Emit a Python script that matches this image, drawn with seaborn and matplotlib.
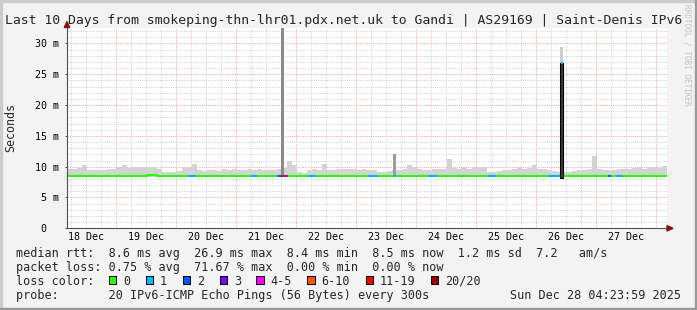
import numpy as np
import pandas as pd
import matplotlib
matplotlib.use("Agg")
import matplotlib.pyplot as plt
from matplotlib.patches import Rectangle, Polygon
import seaborn as sns

# ---------------- data ----------------
title = "Last 10 Days from smokeping-thn-lhr01.pdx.net.uk to Gandi | AS29169 | Saint-Denis IPv6"
period_start = "2025-12-18 04:23:59"
period_days = 10
bin_hours = 2

day_labels = ["18 Dec", "19 Dec", "20 Dec", "21 Dec", "22 Dec",
              "23 Dec", "24 Dec", "25 Dec", "26 Dec", "27 Dec"]
y_ticks_ms = [0, 5, 10, 15, 20, 25, 30]
y_tick_labels = ["0  ", "5 m", "10 m", "15 m", "20 m", "25 m", "30 m"]

# upper edge of the smoke (ms), one value per 2-hour bin
smoke_top_ms = [
    9.7, 9.6, 9.8, 10.3, 9.4, 9.4, 9.5, 9.5, 9.6, 9.7, 9.9, 10.3,
    9.8, 9.9, 10.0, 9.9, 10.0, 9.9, 9.7, 9.2, 9.1, 9.2, 9.3, 9.9,
    9.9, 10.4, 9.4, 9.3, 9.5, 9.4, 9.3, 9.6, 9.5, 9.7, 9.4, 9.4,
    9.6, 9.5, 9.7, 9.5, 9.4, 9.5, 9.6, 9.8, 11.0, 10.2, 9.1, 9.0,
    9.4, 9.6, 9.5, 10.4, 9.5, 9.4, 9.6, 9.6, 9.7, 9.6, 9.5, 9.6,
    9.5, 9.4, 9.2, 9.1, 9.3, 9.4, 9.5, 9.6, 10.3, 9.9, 9.6, 9.5,
    9.4, 9.6, 9.6, 9.7, 11.2, 9.8, 9.6, 9.9, 9.7, 10.0, 9.9, 10.0,
    9.2, 9.1, 9.3, 9.5, 9.4, 9.6, 9.9, 9.7, 9.8, 10.3, 9.7, 9.6,
    9.4, 9.3, 9.2, 9.1, 9.2, 9.3, 9.5, 9.4, 9.6, 11.7, 9.7, 9.4,
    9.5, 9.4, 9.6, 9.7, 9.6, 9.8, 9.9, 9.7, 10.0, 10.0, 9.8, 10.1,
]
smoke_floor_ms = 8.4

# median rtt (ms), one value per 2-hour bin
median_ms = [
    8.5, 8.5, 8.5, 8.5, 8.5, 8.5, 8.5, 8.5, 8.5, 8.5, 8.5, 8.5,
    8.5, 8.5, 8.5, 8.5, 8.62, 8.62, 8.5, 8.5, 8.5, 8.5, 8.5, 8.5,
    8.5, 8.5, 8.5, 8.5, 8.5, 8.5, 8.5, 8.5, 8.5, 8.5, 8.5, 8.5,
    8.5, 8.5, 8.5, 8.5, 8.5, 8.5, 8.5, 8.5, 8.5, 8.5, 8.5, 8.5,
    8.5, 8.5, 8.5, 8.5, 8.5, 8.5, 8.5, 8.5, 8.5, 8.5, 8.5, 8.5,
    8.5, 8.5, 8.5, 8.5, 8.5, 8.5, 8.5, 8.5, 8.5, 8.5, 8.5, 8.5,
    8.5, 8.5, 8.5, 8.5, 8.5, 8.5, 8.5, 8.5, 8.5, 8.5, 8.5, 8.5,
    8.5, 8.5, 8.5, 8.5, 8.5, 8.5, 8.5, 8.5, 8.5, 8.5, 8.5, 8.5,
    8.5, 8.5, 8.5, 8.5, 8.5, 8.5, 8.5, 8.5, 8.5, 8.5, 8.5, 8.5,
    8.5, 8.5, 8.5, 8.5, 8.5, 8.5, 8.5, 8.5, 8.5, 8.5, 8.5, 8.5,
]

# periods with packet loss (hours from start, pings lost of 20)
loss_seg_start_h = [48.4, 73.6, 83.4, 84.2, 85.6, 87.6, 96.4, 120.4, 130.4,
                    144.4, 157.8, 168.4, 192.4, 216.4, 219.6]
loss_seg_end_h = [51.6, 76.0, 84.2, 85.6, 87.6, 88.4, 99.6, 124.4, 131.6,
                  148.0, 158.4, 171.6, 197.2, 217.6, 222.4]
loss_seg_lost = [1, 1, 1, 2, 14, 2, 1, 1, 1, 1, 1, 1, 1, 2, 1]

# tall smoke spikes
spike_start_h = [85.6, 130.4, 197.2]
spike_end_h = [86.6, 131.6, 198.4]
spike_top_ms = [34.0, 12.0, 29.4]

# median jump on 26 Dec
jump_start_h = 197.2
jump_end_h = 198.4
jump_median_ms = 26.9
jump_lost = 1

loss_labels = ["0", "1", "2", "3", "4-5", "6-10", "11-19", "20/20"]
loss_thresholds = [0, 1, 2, 3, 5, 10, 19, 20]
loss_colors = ["#26ff00", "#00b8ff", "#0059ff", "#7e00ff",
               "#ff00ff", "#ff5500", "#ff0000", "#a10000"]

legend_median = "median rtt:  8.6 ms avg  26.9 ms max  8.4 ms min  8.5 ms now  1.2 ms sd  7.2   am/s"
legend_loss = "packet loss: 0.75 % avg  71.67 % max  0.00 % min  0.00 % now"
legend_color = "loss color:"
legend_probe = "probe:       20 IPv6-ICMP Echo Pings (56 Bytes) every 300s"
stamp = "Sun Dec 28 04:23:59 2025"

# ---------------- style ----------------
sns.set_theme(style="white")
plt.rcParams["font.family"] = ["DejaVu Sans Mono", "DejaVu Sans"]

W, H = 697, 310
def fx(x):
    return x / W
def fy(y):
    return 1 - y / H

BG = "#f3f3f3"
MINOR = "#d2d2d2"
MAJOR = "#f2a6a6"
AXIS = "#505050"
ARROW = "#8b1010"

fig = plt.figure(figsize=(W / 100, H / 100), dpi=100, facecolor=BG)
ax = fig.add_axes([fx(67), fy(228.3), 600 / W, 200.3 / H])
ax.set_facecolor("white")

start = pd.Timestamp(period_start)
end = start + pd.Timedelta(days=period_days)
hours_total = period_days * 24
hour = pd.Timedelta(hours=1)
bin_left = np.arange(len(smoke_top_ms)) * bin_hours

# grid
grid_kw = dict(lw=0.72, ls=(0, (1, 1.2)), zorder=1)
for t in pd.date_range(start.ceil("6h"), end, freq="6h"):
    h = (t - start) / hour
    if h >= hours_total:
        continue
    ax.axvline(h, color=MAJOR if t.hour == 0 else MINOR, **grid_kw)
for v in range(1, 33):
    ax.axhline(v, color=MAJOR if v % 5 == 0 else MINOR, **grid_kw)

# smoke
smoke_top = np.array(smoke_top_ms)
ax.bar(bin_left, smoke_top - smoke_floor_ms, bottom=smoke_floor_ms,
       width=bin_hours, align="edge", color="#d3d3d3", linewidth=0, zorder=2)

spike_colors = ["#8a8a8a", "#9c9c9c", "#cdcdcd"]
for s, e, t, c in zip(spike_start_h, spike_end_h, spike_top_ms, spike_colors):
    ax.bar(s, t - smoke_floor_ms, bottom=smoke_floor_ms, width=e - s,
           align="edge", color=c, linewidth=0, zorder=3)

# median line
med_df = pd.DataFrame({"hour": np.append(bin_left, hours_total),
                       "rtt": median_ms + [median_ms[-1]]})
sns.lineplot(data=med_df, x="hour", y="rtt", drawstyle="steps-post",
             color=loss_colors[0], linewidth=1.5, ax=ax, zorder=4, legend=False)

def loss_index(n):
    return next(i for i, t in enumerate(loss_thresholds) if n <= t)

for s, e, n in zip(loss_seg_start_h, loss_seg_end_h, loss_seg_lost):
    y = median_ms[int(s // bin_hours)]
    ax.hlines(y, s, e, colors=loss_colors[loss_index(n)], lw=1.5, zorder=5)

# median jump
ax.bar(jump_start_h, jump_median_ms - 8.2, bottom=8.2,
       width=jump_end_h - jump_start_h, align="edge", color="#3c3c3c",
       edgecolor="black", linewidth=0.8, zorder=6)
ax.hlines(jump_median_ms, jump_start_h + 0.2, jump_end_h - 0.2,
          colors=loss_colors[loss_index(jump_lost)], lw=1.5, zorder=7)

# axes
ax.set_xlim(0, hours_total)
ax.set_ylim(0, 32.5)
noon = pd.date_range(start.normalize() + pd.Timedelta(hours=12),
                     periods=len(day_labels), freq="D")
ax.set_xticks((noon - start) / hour, day_labels)
ax.set_yticks(y_ticks_ms, y_tick_labels)
ax.tick_params(axis="x", length=0, pad=2.9, labelsize=7.2, colors="black")
ax.tick_params(axis="y", length=1.6, width=0.72, color=AXIS, pad=4.0,
               labelsize=7.2, labelcolor="black", left=True)
ax.set_xlabel("")
ax.set_ylabel("")
for side in ["top", "right"]:
    ax.spines[side].set_visible(False)
for side in ["left", "bottom"]:
    ax.spines[side].set_color(AXIS)
    ax.spines[side].set_linewidth(0.8)
    ax.spines[side].set_zorder(8)

# arrows
fig.patches.append(Polygon([(fx(64.3), fy(27.5)), (fx(69.7), fy(27.5)), (fx(67), fy(21.5))],
                           closed=True, transform=fig.transFigure, color=ARROW, zorder=10))
fig.patches.append(Polygon([(fx(667), fy(225.6)), (fx(667), fy(231)), (fx(673), fy(228.3))],
                           closed=True, transform=fig.transFigure, color=ARROW, zorder=10))

# texts
fig.text(fx(344), fy(24.3), title, ha="center", va="baseline", fontsize=9.45)
fig.text(fx(10.5), fy(127.5), "Seconds", rotation=90, ha="center", va="center",
         fontsize=8.4)
fig.text(fx(687.5), fy(4.5), "RRDTOOL / TOBI OETIKER", rotation=-90, ha="center",
         va="top", fontsize=5.6, color="#c4c4c4")

LEG_FS = 8.45
CW = LEG_FS / 72 * 100 * 0.602
baselines = [256.8, 270.8, 284.8, 298.7]
for txt, bl in zip([legend_median, legend_loss, legend_color, legend_probe], baselines):
    fig.text(fx(16), fy(bl), txt, ha="left", va="baseline", fontsize=LEG_FS)
fig.text(fx(680.5), fy(baselines[3]), stamp, ha="right", va="baseline", fontsize=LEG_FS)

bx = 109.0
for lab, col in zip(loss_labels, loss_colors):
    fig.patches.append(Rectangle((fx(bx), fy(283.5)), 7.2 / W, 7.2 / H,
                                 transform=fig.transFigure, facecolor=col,
                                 edgecolor="black", linewidth=0.72))
    tx = bx + 14.2
    fig.text(fx(tx), fy(baselines[2]), lab, ha="left", va="baseline", fontsize=LEG_FS)
    bx = tx + len(lab) * CW + 15.6

# 3D border
fig.patches.append(Rectangle((0, fy(2)), 1, 2 / H, transform=fig.transFigure,
                             color="#cbcbcb", zorder=20))
fig.patches.append(Rectangle((0, 0), 2 / W, 1, transform=fig.transFigure,
                             color="#cbcbcb", zorder=20))
fig.patches.append(Rectangle((0, 0), 1, 2 / H, transform=fig.transFigure,
                             color="#999999", zorder=21))
fig.patches.append(Rectangle((fx(695), 0), 2 / W, 1, transform=fig.transFigure,
                             color="#999999", zorder=21))

fig.savefig("out.png", dpi=100, facecolor=BG)
